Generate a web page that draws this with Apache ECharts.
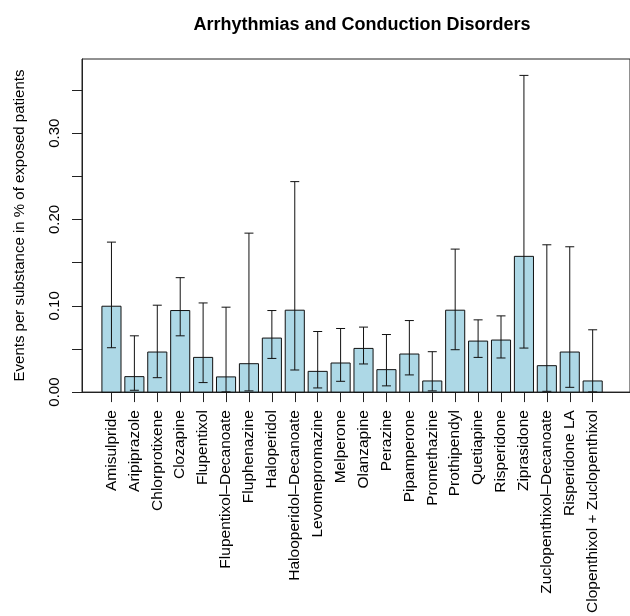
<!DOCTYPE html>
<html>
<head>
<meta charset="utf-8">
<script src="https://cdn.jsdelivr.net/npm/echarts@6/dist/echarts.min.js"></script>
<style>
html,body{margin:0;padding:0;background:#fff;}
#chart{width:630px;height:616px;}
</style>
</head>
<body>
<div id="chart"></div>
<script>
const categories = ["Amisulpride","Aripiprazole","Chlorprotixene","Clozapine","Flupentixol","Flupentixol\u2013Decanoate","Fluphenazine","Haloperidol","Halooperidol\u2013Decanoate","Levomepromazine","Melperone","Olanzapine","Perazine","Pipamperone","Promethazine","Prothipendyl","Quetiapine","Risperidone","Ziprasidone","Zuclopenthixol\u2013Decanoate","Risperidone LA","Clopenthixol + Zuclopenthixol"];
const values = [0.0995,0.0179,0.0464,0.0945,0.0402,0.0176,0.0329,0.0626,0.0949,0.0240,0.0337,0.0506,0.0260,0.0441,0.0129,0.0949,0.0591,0.0603,0.1573,0.0306,0.0464,0.0129];
const lower  = [0.0514,0.0021,0.0167,0.0652,0.0110,0.0002,0.0014,0.0390,0.0256,0.0048,0.0125,0.0326,0.0072,0.0199,0.0014,0.0491,0.0402,0.0395,0.0510,0.0009,0.0055,0.0002];
const upper  = [0.1738,0.0652,0.1007,0.1326,0.1033,0.0984,0.1842,0.0945,0.2439,0.0702,0.0737,0.0753,0.0667,0.0829,0.0468,0.1657,0.0837,0.0883,0.3670,0.1707,0.1684,0.0722];
const yTickValues = [0,0.05,0.10,0.15,0.20,0.25,0.30,0.35];
const yLabelValues = [0,0.10,0.20,0.30];
const yMax = 0.386;

const idx = categories.map((c,i)=>i);
const barData = categories.map((c,i)=>[i, values[i]]);
const errData = categories.map((c,i)=>[i, lower[i], upper[i]]);

const FONT = '"Liberation Sans", Arial, Helvetica, sans-serif';
const chart = echarts.init(document.getElementById('chart'), null, {renderer:'canvas'});
chart.setOption({
  animation:false,
  backgroundColor:'#fff',
  title:{
    text:'Arrhythmias and Conduction Disorders',
    left:357, textAlign:'center', top:11,
    textStyle:{fontFamily:FONT, fontSize:18, fontWeight:'bold', color:'#000'}
  },
  grid:{left:82, top:59, width:558, height:334.5, show:true, borderColor:'#222', borderWidth:1, backgroundColor:'transparent'},
  xAxis:{
    type:'value', min:-1.2857, max:22.629,
    axisLine:{show:true, onZero:false, lineStyle:{color:'#222', width:1}},
    splitLine:{show:false},
    axisTick:{show:true, customValues:idx, length:10, lineStyle:{color:'#222', width:1}},
    axisLabel:{show:true, customValues:idx, rotate:90, margin:18,
      formatter:(v)=>categories[Math.round(v)] || '',
      fontFamily:FONT, fontSize:15.5, color:'#000'}
  },
  yAxis:{
    type:'value', min:0, max:yMax,
    name:'Events per substance in % of exposed patients',
    nameLocation:'middle', nameRotate:90, nameGap:55,
    nameTextStyle:{fontFamily:FONT, fontSize:15, color:'#000'},
    axisLine:{show:true, onZero:false, lineStyle:{color:'#222', width:1}},
    splitLine:{show:false},
    axisTick:{show:true, customValues:yTickValues, length:10, lineStyle:{color:'#222', width:1}},
    axisLabel:{show:true, customValues:yLabelValues, rotate:90, margin:20, align:'center', verticalAlign:'bottom',
      formatter:(v)=>v.toFixed(2),
      fontFamily:FONT, fontSize:15, color:'#000'}
  },
  series:[
    {
      type:'custom', name:'bars', data:barData, z:2,
      renderItem:function(params, api){
        const x = api.value(0), v = api.value(1);
        const p0 = api.coord([x,0]), p1 = api.coord([x,v]);
        const w = api.size([1,0])[0] / 1.2;
        return {type:'rect', shape:{x:p0[0]-w/2, y:p1[1], width:w, height:p0[1]-p1[1]},
          style:{fill:'#ADD8E6', stroke:'#111', lineWidth:1}};
      }
    },
    {
      type:'custom', name:'errors', data:errData, z:3,
      renderItem:function(params, api){
        const x = api.value(0);
        const pl = api.coord([x, api.value(1)]), pu = api.coord([x, api.value(2)]);
        const h = 4.5;
        const st = {stroke:'#111', lineWidth:1};
        return {type:'group', children:[
          {type:'line', shape:{x1:pl[0], y1:pl[1], x2:pu[0], y2:pu[1]}, style:st},
          {type:'line', shape:{x1:pl[0]-h, y1:pl[1], x2:pl[0]+h, y2:pl[1]}, style:st},
          {type:'line', shape:{x1:pu[0]-h, y1:pu[1], x2:pu[0]+h, y2:pu[1]}, style:st}
        ]};
      }
    }
  ]
});
</script>
</body>
</html>
